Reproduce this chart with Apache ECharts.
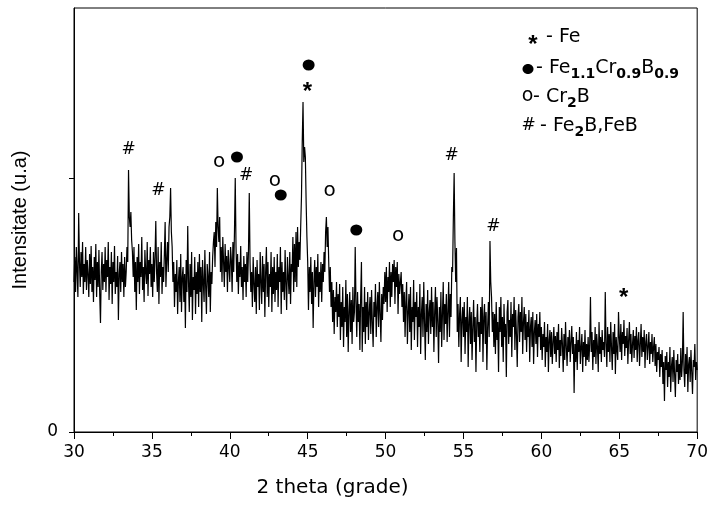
<!DOCTYPE html>
<html>
<head>
<meta charset="utf-8">
<script src="https://cdn.jsdelivr.net/npm/echarts@6/dist/echarts.min.js"></script>
<style>html,body{margin:0;padding:0;background:#fff;}#chart{width:711px;height:506px;}</style>
</head>
<body>
<div id="chart"></div>
<script>
// 2-theta sampling grid of the scan
const twoThetaStart = 30;
const twoThetaStep = 0.05;
// intensity, one value per 0.05 degree, rows = one degree each (30..69), last = 70.00
const intensity = [
150,175,140,185,160,135,219,170,145,180,155,190,138,168,150,185,142,172,158,135,
178,148,186,140,165,130,175,152,188,135,170,145,182,138,109,160,180,142,168,150,
185,140,172,155,190,132,165,148,180,128,170,150,186,138,160,145,176,112,158,170,
140,180,150,168,135,175,145,160,185,170,262,215,205,220,192,180,155,185,140,170,
122,175,150,188,138,170,155,195,142,165,130,182,160,148,190,136,172,158,185,145,
168,135,180,150,175,211,160,140,185,128,170,155,190,138,165,150,178,210,145,172,
190,160,205,215,244,200,185,150,170,125,158,140,172,118,150,165,130,178,120,155,
165,130,158,104,172,140,206,150,120,168,135,180,112,155,142,175,118,160,138,170,
125,178,140,165,110,172,150,130,182,145,118,168,155,135,180,120,160,148,175,190,
200,165,210,185,244,205,190,215,160,185,150,195,170,145,188,160,176,140,182,165,
150,185,172,140,190,160,200,254,185,150,178,138,170,155,186,145,165,132,176,150,
168,135,180,150,182,239,170,140,160,125,175,148,130,165,118,172,145,158,122,180,
150,128,176,140,168,115,160,185,135,170,125,158,145,180,120,165,138,175,130,160,
142,178,125,165,150,185,118,170,140,160,132,182,148,122,175,155,138,180,128,168,
160,195,140,188,150,200,145,205,165,190,172,205,235,290,330,270,285,275,230,195,
170,122,165,140,175,128,160,104,150,172,135,165,145,178,125,160,140,170,130,168,
150,180,160,200,215,185,205,170,140,165,125,150,110,142,98,135,120,150,105,138,
115,148,92,130,105,145,85,125,110,152,95,138,80,120,140,100,132,88,145,110,
120,185,130,95,140,110,128,82,135,170,80,125,100,145,88,130,105,140,92,120,
135,98,142,110,85,130,115,148,95,125,140,105,150,118,90,138,112,145,128,160,
130,165,120,155,140,170,125,160,135,168,150,172,128,165,145,170,118,158,138,150,
160,125,148,110,140,95,130,150,88,120,138,100,145,82,125,110,152,92,130,115,
140,85,125,105,148,78,118,135,95,150,110,72,128,100,142,88,120,132,98,145,
105,130,80,120,145,95,135,110,69,125,100,140,85,118,150,92,128,108,138,90,
120,150,95,138,115,165,160,215,259,190,150,184,100,128,85,118,135,70,112,125,
95,130,78,115,100,135,65,110,125,88,120,72,105,132,90,115,60,108,128,95,
110,80,125,98,135,70,115,128,88,120,62,105,130,95,191,150,135,100,120,85,
118,78,130,92,110,60,125,100,135,85,115,70,128,95,108,55,120,132,88,112,
95,130,75,118,105,135,82,122,98,65,115,128,90,120,100,135,78,110,125,92,
118,80,110,95,122,70,105,115,85,120,68,100,112,88,118,75,108,95,120,82,
105,72,98,85,110,65,95,80,108,60,92,102,75,100,68,90,105,78,96,70,
100,82,108,64,92,76,104,88,60,98,72,110,85,66,95,80,102,70,90,106,
78,95,39,88,70,100,62,92,80,105,68,85,98,60,90,75,102,66,88,72,
95,70,88,135,80,100,62,92,75,105,68,98,85,60,110,78,95,70,102,82,
90,75,140,88,65,105,80,98,70,110,85,62,100,78,108,58,95,82,72,120,
95,80,108,72,100,88,112,76,96,84,104,68,92,110,78,98,70,88,102,74,
96,82,105,70,92,100,66,88,108,75,95,80,102,64,90,98,72,86,100,68,
90,78,98,70,85,95,66,88,60,80,72,85,55,78,65,82,48,70,31,76,
62,80,45,70,55,85,40,66,75,50,82,58,35,72,60,78,48,68,52,84,
55,70,120,62,45,78,58,85,40,68,75,50,82,60,38,72,65,88,52,70,
62
];
// phase markers placed over the peaks (angle, level)
const hashAngles = [33.51, 35.42, 41.04, 54.24, 56.92];
const hashLevels = [282, 241, 256, 276, 205];
const openAngles = [39.31, 42.89, 46.40, 50.80];
const openLevels = [269, 250, 240, 195];
const dotAngles = [40.46, 43.27, 45.06, 48.12];
const dotLevels = [275, 237, 367, 202];
const starAngles = [44.99, 65.28];
const starLevels = [345, 139];
// y axis: only the zero label is printed, one extra unlabeled tick
const yTickValues = [0, 254];
const yLabelValues = [0];

const spectrum = intensity.map((v, i) => [+(twoThetaStart + i * twoThetaStep).toFixed(2), v]);
const pairs = (a, b) => a.map((x, i) => [x, b[i]]);

const chart = echarts.init(document.getElementById('chart'), null, {renderer: 'canvas'});
const F = 'DejaVu Sans';
const subStyle = {fontFamily: F, fontSize: 14, fontWeight: 'bold', verticalAlign: 'bottom', lineHeight: 14, fill: '#000'};
const hidden = {color: 'rgba(0,0,0,0)', opacity: 1};
chart.setOption({
  animation: false,
  backgroundColor: '#fff',
  grid: {left: 74, right: 10, top: 8, bottom: 74, show: true, borderColor: '#000', borderWidth: 1},
  xAxis: {
    type: 'value', min: 30, max: 70, interval: 5,
    axisLine: {show: true, onZero: false, lineStyle: {color: '#000', width: 1}},
    axisTick: {show: true, length: 7, lineStyle: {color: '#000'}},
    minorTick: {show: true, splitNumber: 2, length: 4, lineStyle: {color: '#000'}},
    splitLine: {show: false}, minorSplitLine: {show: false},
    axisLabel: {fontFamily: F, fontSize: 17, color: '#000', margin: 12},
    name: '2 theta (grade)', nameLocation: 'middle', nameGap: 46,
    nameTextStyle: {fontFamily: F, fontSize: 20, color: '#000', padding: [0, 106, 0, 0]}
  },
  yAxis: {
    type: 'value', min: 0, max: 424,
    axisLine: {show: true, lineStyle: {color: '#000', width: 1}},
    axisTick: {show: true, length: 5, customValues: yTickValues, lineStyle: {color: '#000'}},
    axisLabel: {customValues: yLabelValues, fontFamily: F, fontSize: 17, color: '#000', margin: 16},
    splitLine: {show: false},
    name: 'Intensitate (u.a)', nameLocation: 'middle', nameGap: 44, nameRotate: 90,
    nameTextStyle: {fontFamily: 'Liberation Sans', fontSize: 20, color: '#000'}
  },
  series: [
    {type: 'line', data: spectrum, symbol: 'none', showSymbol: false, silent: true,
     lineStyle: {color: '#000', width: 1.2}, z: 2},
    {type: 'scatter', data: pairs(hashAngles, hashLevels), symbolSize: 1, silent: true,
     itemStyle: hidden,
     label: {show: true, position: 'inside', formatter: '#', fontFamily: F, fontSize: 17, color: '#000', opacity: 1}},
    {type: 'scatter', data: pairs(openAngles, openLevels), symbolSize: 1, silent: true,
     itemStyle: hidden,
     label: {show: true, position: 'inside', formatter: 'o', fontFamily: F, fontSize: 20, color: '#000', opacity: 1, offset: [0, -1]}},
    {type: 'scatter', data: pairs(starAngles, starLevels), symbolSize: 1, silent: true,
     itemStyle: hidden,
     label: {show: true, position: 'inside', formatter: '*', fontFamily: 'Liberation Sans', fontWeight: 'bold', fontSize: 24, color: '#000', opacity: 1, offset: [0, 5]}},
    {type: 'scatter', data: pairs(dotAngles, dotLevels), symbol: 'circle', symbolSize: [12, 11], silent: true,
     itemStyle: {color: '#000', opacity: 1}}
  ],
  graphic: [
    {type: 'text', x: 533, y: 45, style: {text: '*', fontFamily: 'Liberation Sans', fontWeight: 'bold', fontSize: 24, fill: '#000', align: 'center', verticalAlign: 'middle'}},
    {type: 'text', x: 546, y: 37, style: {text: '- Fe', fontFamily: F, fontSize: 19, fill: '#000', verticalAlign: 'middle'}},
    {type: 'ellipse', shape: {cx: 528, cy: 69, rx: 5.5, ry: 5}, style: {fill: '#000'}},
    {type: 'text', x: 536, y: 68, style: {text: '- Fe{s|1.1}Cr{s|0.9}B{s|0.9}', fontFamily: F, fontSize: 19, lineHeight: 26, fill: '#000', verticalAlign: 'middle',
      rich: {s: subStyle}}},
    {type: 'text', x: 527.5, y: 96, style: {text: 'o', fontFamily: F, fontSize: 19, fill: '#000', align: 'center', verticalAlign: 'middle'}},
    {type: 'text', x: 533, y: 97, style: {text: '- Cr{s|2}B', fontFamily: F, fontSize: 19, lineHeight: 26, fill: '#000', verticalAlign: 'middle',
      rich: {s: subStyle}}},
    {type: 'text', x: 528.5, y: 126, style: {text: '#', fontFamily: F, fontSize: 17, fill: '#000', align: 'center', verticalAlign: 'middle'}},
    {type: 'text', x: 540, y: 126, style: {text: '- Fe{s|2}B,FeB', fontFamily: F, fontSize: 19, lineHeight: 26, fill: '#000', verticalAlign: 'middle',
      rich: {s: subStyle}}}
  ]
});
</script>
</body>
</html>
